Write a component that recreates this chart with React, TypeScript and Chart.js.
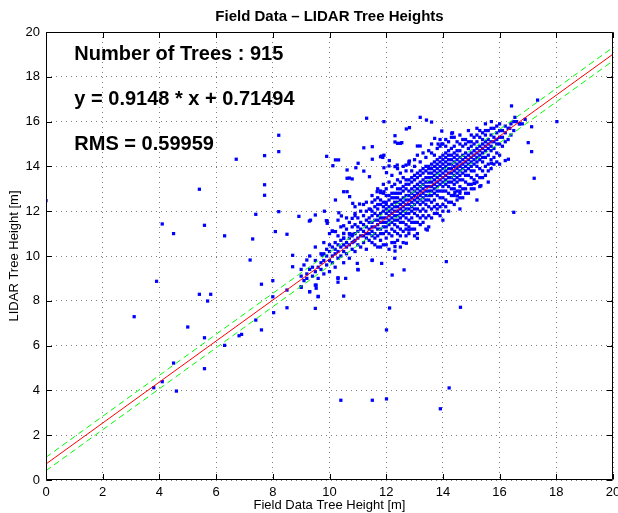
import React, { useEffect, useRef } from "react";
import { Chart, registerables } from "chart.js";

Chart.register(...registerables);

const chartTitle = "Field Data – LIDAR Tree Heights";
const xAxisTitle = "Field Data Tree Height [m]";
const yAxisTitle = "LIDAR Tree Height [m]";
const tickValues = [0, 2, 4, 6, 8, 10, 12, 14, 16, 18, 20];
const axisMin = 0;
const axisMax = 20;

const fitSlope = 0.9148;
const fitIntercept = 0.71494;
const bandHalfWidth = 0.3;

const annotationTexts = ["Number of Trees : 915", "y = 0.9148 * x + 0.71494", "RMS = 0.59959"];
const annotationX = 1.0;
const annotationY = [19, 17, 15];

// Dense core of the scatter: field height columns and the LIDAR heights read in each column
const coreFieldX = [
  9.0, 9.1, 9.2, 9.3, 9.4, 9.5, 9.6, 9.7, 9.8, 9.9,
  10.0, 10.1, 10.2, 10.3, 10.4, 10.5, 10.6, 10.7, 10.8, 10.9,
  11.0, 11.1, 11.2, 11.3, 11.4, 11.5, 11.6, 11.7, 11.8, 11.9,
  12.0, 12.1, 12.2, 12.3, 12.4, 12.5, 12.6, 12.7, 12.8, 12.9,
  13.0, 13.1, 13.2, 13.3, 13.4, 13.5, 13.6, 13.7, 13.8, 13.9,
  14.0, 14.1, 14.2, 14.3, 14.4, 14.5, 14.6, 14.7, 14.8, 14.9,
  15.0, 15.1, 15.2, 15.3, 15.4, 15.5, 15.6, 15.7, 15.8, 15.9,
  16.0, 16.1, 16.2, 16.3, 16.4, 16.5, 16.7, 16.9,
];
const coreLidarY = [
  [8.6, 9.1, 9.4], [8.9, 9.6], [9.0, 9.2], [8.4, 9.4, 10.0], [9.1, 9.5],
  [8.7, 9.3, 9.8, 10.4], [9.0, 9.5, 8.2], [9.4, 9.7, 10.1], [9.2, 9.8, 10.1, 10.6], [9.6, 10.0, 10.3],
  [9.3, 9.8, 10.2, 10.5, 11.0], [9.7, 10.0, 10.4, 11.1], [9.5, 10.1, 10.3, 10.6], [9.0, 9.9, 10.2, 10.5, 10.9, 11.6], [10.0, 10.4, 10.7, 11.3],
  [9.7, 10.2, 10.5, 10.8, 11.0], [10.1, 10.4, 10.6, 11.2, 11.7], [9.9, 10.5, 10.8, 11.0, 11.5], [10.3, 10.6, 10.9, 11.3], [10.2, 10.7, 11.0, 11.4, 11.8, 12.2],
  [9.4, 10.5, 10.8, 11.1, 11.3, 11.7], [10.4, 10.9, 11.2, 11.5, 12.0], [10.6, 10.9, 11.1, 11.4, 11.8, 12.3], [10.3, 10.8, 11.0, 11.3, 11.6, 12.0, 12.4], [10.7, 11.0, 11.2, 11.5, 11.7, 12.1],
  [9.8, 10.6, 10.9, 11.1, 11.3, 11.5, 11.8, 12.0, 12.4, 12.7], [10.5, 10.8, 11.0, 11.3, 11.6, 11.9, 12.2, 12.5], [10.4, 10.9, 11.2, 11.4, 11.6, 11.8, 12.1, 12.3, 12.6, 13.0], [10.4, 10.7, 11.0, 11.2, 11.5, 11.7, 11.9, 12.3, 12.5, 12.9], [10.5, 11.0, 11.3, 11.5, 11.7, 12.0, 12.2, 12.4, 12.8, 13.2],
  [10.5, 10.8, 11.1, 11.3, 11.5, 11.7, 11.9, 12.1, 12.3, 12.4, 12.7, 13.0], [10.3, 11.0, 11.4, 11.6, 11.8, 12.0, 12.2, 12.5, 12.7, 13.3], [10.6, 10.9, 11.2, 11.5, 11.7, 11.9, 12.1, 12.3, 12.6, 12.8, 13.1, 13.6], [9.9, 10.6, 11.1, 11.4, 11.6, 11.8, 12.0, 12.2, 12.4, 12.6, 12.8, 13.2], [10.7, 11.0, 11.3, 11.6, 11.8, 12.0, 12.2, 12.4, 12.6, 12.8, 13.0, 13.4, 13.9],
  [10.4, 10.9, 11.2, 11.5, 11.7, 11.9, 12.1, 12.3, 12.5, 12.8, 13.0, 13.3, 13.7], [10.6, 11.1, 11.5, 11.8, 12.0, 12.2, 12.4, 12.6, 12.9, 13.1, 13.5, 14.0], [10.9, 11.2, 11.4, 11.7, 11.9, 12.1, 12.3, 12.5, 12.7, 13.0, 13.2, 13.4, 13.8], [11.0, 11.3, 11.6, 11.9, 12.1, 12.3, 12.5, 12.7, 12.9, 13.2, 13.4, 14.1], [11.2, 11.5, 11.7, 12.0, 12.2, 12.4, 12.6, 12.8, 13.0, 13.3, 13.5, 13.8],
  [10.9, 11.2, 11.5, 11.9, 12.1, 12.3, 12.5, 12.7, 12.9, 13.1, 13.4, 13.6, 14.0, 14.3], [11.0, 11.5, 11.8, 12.1, 12.4, 12.6, 12.8, 13.0, 13.2, 13.5, 13.7, 14.5], [11.4, 11.7, 12.0, 12.3, 12.5, 12.7, 12.9, 13.1, 13.3, 13.6, 13.8, 14.2], [11.5, 11.8, 12.1, 12.4, 12.6, 12.8, 13.0, 13.2, 13.4, 13.7, 13.9, 14.6], [11.2, 11.7, 12.0, 12.3, 12.5, 12.7, 12.9, 13.1, 13.3, 13.5, 13.8, 14.0, 14.4],
  [11.3, 11.8, 12.2, 12.5, 12.7, 12.9, 13.1, 13.3, 13.5, 13.7, 13.9, 14.0, 14.7], [11.7, 12.1, 12.4, 12.7, 12.9, 13.1, 13.3, 13.5, 13.7, 13.9, 14.1, 14.6, 15.0], [11.9, 12.2, 12.5, 12.8, 13.0, 13.2, 13.4, 13.6, 13.8, 14.0, 14.2, 14.5], [11.9, 12.1, 12.3, 12.7, 12.9, 13.1, 13.3, 13.5, 13.7, 13.9, 14.1, 14.3, 14.8], [11.8, 12.2, 12.6, 12.9, 13.2, 13.4, 13.6, 13.8, 14.0, 14.2, 14.4, 14.9, 15.2],
  [11.6, 12.0, 12.3, 12.6, 12.9, 13.1, 13.3, 13.5, 13.7, 13.9, 14.1, 14.3, 14.5, 15.0], [12.2, 12.5, 12.9, 13.2, 13.4, 13.6, 13.8, 14.0, 14.2, 14.4, 14.6, 14.9, 15.2], [12.0, 12.4, 12.8, 13.1, 13.3, 13.5, 13.7, 13.9, 14.1, 14.3, 14.5, 14.7, 15.1], [12.4, 12.7, 13.0, 13.3, 13.5, 13.7, 13.9, 14.1, 14.3, 14.5, 14.8, 15.3], [12.3, 12.7, 13.0, 13.2, 13.4, 13.6, 13.8, 14.0, 14.2, 14.4, 14.6, 14.9, 15.3],
  [12.5, 12.9, 13.3, 13.5, 13.7, 13.9, 14.1, 14.3, 14.5, 14.7, 15.1], [12.1, 12.6, 12.8, 13.1, 13.4, 13.6, 13.8, 14.0, 14.2, 14.4, 14.7, 15.0, 15.4], [12.6, 13.0, 13.4, 13.7, 13.9, 14.1, 14.3, 14.5, 14.9, 15.2], [12.8, 13.0, 13.3, 13.6, 13.8, 14.0, 14.2, 14.4, 14.6, 15.0, 15.2], [12.8, 13.2, 13.6, 13.9, 14.1, 14.3, 14.5, 14.8, 15.1, 15.6],
  [13.0, 13.2, 13.5, 13.8, 14.0, 14.2, 14.4, 14.6, 14.9, 15.1, 15.4], [13.0, 13.4, 13.8, 14.1, 14.3, 14.5, 14.7, 15.0, 15.3], [12.5, 13.3, 13.6, 14.0, 14.2, 14.4, 14.6, 14.8, 15.1, 15.4, 15.7], [13.1, 13.5, 13.9, 14.3, 14.5, 14.7, 14.9, 15.3, 15.6], [13.5, 13.8, 14.2, 14.4, 14.6, 14.8, 15.0, 15.2, 15.5],
  [13.6, 14.0, 14.4, 14.7, 14.9, 15.1, 15.4, 15.6, 15.9], [13.3, 13.8, 14.1, 14.5, 14.8, 15.0, 15.2, 15.6], [13.9, 14.3, 14.7, 14.9, 15.1, 15.4, 15.7], [14.1, 14.4, 14.8, 15.1, 15.3, 15.7], [14.2, 14.6, 15.0, 15.2, 15.5, 15.8],
  [14.1, 14.5, 15.0, 15.3, 15.6, 15.9], [14.9, 15.3, 15.6], [15.1, 15.5, 15.8], [15.2, 15.7], [15.4, 15.9],
  [15.6, 16.0], [15.9], [16.1],
];

// Scattered trees away from the core
const outlierX = [
  0.0, 3.11, 3.8, 3.9, 4.1, 4.1, 4.5, 4.5, 4.6, 5.0, 5.41, 5.41, 5.59, 5.59, 5.59, 5.7, 5.81, 6.3, 6.3, 6.71,
  6.81, 6.9, 7.2, 7.29, 7.4, 7.4, 7.6, 7.6, 7.71, 7.71, 7.71, 8.0, 8.0, 8.03, 8.09, 8.21, 8.21, 8.21, 8.5, 8.5,
  8.5, 8.7, 8.7, 8.92, 9.0, 9.29, 9.2, 9.3, 9.33, 9.5, 9.5, 9.53, 9.53, 9.6, 9.74, 9.82, 9.89, 9.92, 9.92, 9.9,
  10.12, 10.21, 10.32, 10.1, 10.21, 10.21, 10.3, 10.3, 10.33, 10.42, 10.4, 10.5, 10.5, 10.5, 10.5, 10.5, 10.57, 10.62, 10.62, 10.62,
  10.7, 10.72, 10.8, 10.71, 10.8, 10.82, 10.82, 10.86, 10.9, 10.93, 10.98, 11.01, 11.01, 11.06, 11.21, 11.21, 11.31, 11.41, 11.45, 11.51,
  11.51, 11.51, 11.51, 11.68, 11.8, 11.8, 11.84, 11.84, 11.88, 11.92, 11.92, 11.92, 11.92, 12.01, 12.01, 12.01, 12.1, 12.11, 12.12, 12.21,
  12.31, 12.31, 12.4, 12.5, 12.55, 12.31, 12.31, 12.31, 12.39, 12.63, 12.71, 12.82, 12.71, 12.7, 12.8, 12.82, 12.8, 13.1, 13.2, 13.2,
  13.1, 13.42, 13.6, 13.45, 13.71, 13.83, 13.96, 13.96, 13.91, 14.12, 14.22, 14.31, 14.34, 14.42, 14.51, 14.6, 14.62, 15.1, 15.12, 15.34,
  15.71, 15.71, 16.2, 16.31, 16.36, 16.42, 16.54, 16.6, 16.7, 16.8, 17.01, 17.13, 17.13, 17.22, 17.34, 18.02, 16.5,
];
const outlierY = [
  12.47, 7.29, 4.12, 8.87, 4.39, 11.43, 11.0, 5.22, 3.97, 6.83, 12.98, 8.29, 11.37, 6.35, 4.97, 7.99, 8.29, 10.9, 6.01, 14.32,
  6.44, 6.5, 9.82, 10.76, 7.14, 11.86, 8.74, 6.7, 14.48, 13.18, 12.71, 8.9, 8.18, 7.47, 11.09, 15.39, 14.66, 11.98, 10.97, 7.69,
  8.48, 10.03, 9.52, 11.77, 8.63, 11.56, 9.82, 8.41, 11.6, 11.83, 7.66, 8.7, 8.56, 8.18, 10.04, 12.0, 11.58, 11.56, 11.46, 14.45,
  14.03, 14.29, 14.29, 11.12, 11.09, 12.5, 9.03, 8.83, 11.93, 11.79, 3.56, 11.35, 11.01, 12.87, 8.21, 10.79, 9.0, 13.84, 12.87, 13.47,
  13.48, 10.97, 13.44, 12.65, 11.68, 12.35, 10.97, 10.64, 11.9, 13.94, 9.67, 14.14, 9.38, 12.32, 14.83, 13.79, 16.15, 13.54, 12.08, 14.88,
  14.32, 9.82, 3.56, 12.87, 12.83, 14.43, 14.46, 9.67, 14.4, 16.0, 14.5, 13.94, 12.87, 13.72, 6.7, 3.62, 14.02, 14.26, 7.68, 9.15,
  15.37, 15.09, 15.03, 15.03, 15.06, 13.99, 10.42, 10.22, 14.06, 9.38, 15.67, 15.73, 10.57, 14.06, 14.2, 14.24, 11.16, 14.91, 14.91, 16.19,
  10.79, 16.07, 15.98, 11.16, 15.25, 15.0, 15.0, 15.58, 3.18, 9.75, 4.11, 15.48, 15.5, 12.84, 12.68, 12.9, 7.71, 13.24, 13.24, 13.14,
  16.0, 14.14, 14.26, 14.32, 15.7, 16.7, 16.19, 16.0, 15.9, 15.9, 15.06, 15.77, 14.66, 13.47, 16.96, 16.0, 11.95,
];

const FONT = '"Liberation Sans", Arial, Helvetica, sans-serif';

const matlabFrame = {
  id: "matlabFrame",
  afterDraw(chart: any) {
    const { ctx, chartArea: a, scales } = chart;
    const xs = scales.x;
    const ys = scales.y;
    const L = Math.round(a.left) + 0.5;
    const R = Math.round(a.right) - 0.5;
    const T = Math.round(a.top) + 0.5;
    const B = Math.round(a.bottom) - 0.5;
    ctx.save();
    ctx.strokeStyle = "#000";
    ctx.lineWidth = 1;
    ctx.beginPath();
    ctx.rect(L, T, R - L, B - T);
    const tl = 5.5;
    tickValues.forEach((v) => {
      const px = Math.round(xs.getPixelForValue(v)) + 0.5;
      ctx.moveTo(px, B);
      ctx.lineTo(px, B - tl);
      ctx.moveTo(px, T);
      ctx.lineTo(px, T + tl);
      const py = Math.round(ys.getPixelForValue(v)) + 0.5;
      ctx.moveTo(L, py);
      ctx.lineTo(L + tl, py);
      ctx.moveTo(R, py);
      ctx.lineTo(R - tl, py);
    });
    ctx.stroke();

    ctx.fillStyle = "#000";
    ctx.textAlign = "center";
    ctx.textBaseline = "middle";
    ctx.font = `bold 15px ${FONT}`;
    ctx.fillText(chartTitle, (a.left + a.right) / 2, 17);

    ctx.font = `13px ${FONT}`;
    ctx.fillText(xAxisTitle, (a.left + a.right) / 2, 505);
    ctx.save();
    ctx.translate(14, (a.top + a.bottom) / 2);
    ctx.rotate(-Math.PI / 2);
    ctx.fillText(yAxisTitle, 0, 0);
    ctx.restore();

    ctx.font = `bold 20px ${FONT}`;
    ctx.textAlign = "left";
    annotationTexts.forEach((t, i) => {
      ctx.fillText(t, xs.getPixelForValue(annotationX), ys.getPixelForValue(annotationY[i]));
    });
    ctx.restore();
  },
};

export default function App() {
  const ref = useRef<HTMLCanvasElement | null>(null);

  useEffect(() => {
    if (!ref.current) return;
    const points: { x: number; y: number }[] = [];
    coreFieldX.forEach((x, i) => {
      coreLidarY[i].forEach((y) => points.push({ x, y }));
    });
    outlierX.forEach((x, i) => points.push({ x, y: outlierY[i] }));

    const lineAt = (x: number, off: number) => ({ x, y: fitSlope * x + fitIntercept + off });

    const chart = new Chart(ref.current, {
      type: "scatter",
      data: {
        datasets: [
          {
            label: "fit",
            data: [lineAt(axisMin, 0), lineAt(axisMax, 0)],
            showLine: true,
            borderColor: "#ff0000",
            borderWidth: 1,
            pointRadius: 0,
            order: 0,
          },
          {
            label: "upper",
            data: [lineAt(axisMin, bandHalfWidth), lineAt(axisMax, bandHalfWidth)],
            showLine: true,
            borderColor: "#00ff00",
            borderWidth: 1,
            borderDash: [6, 4],
            pointRadius: 0,
            order: 1,
          },
          {
            label: "lower",
            data: [lineAt(axisMin, -bandHalfWidth), lineAt(axisMax, -bandHalfWidth)],
            showLine: true,
            borderColor: "#00ff00",
            borderWidth: 1,
            borderDash: [6, 4],
            pointRadius: 0,
            order: 1,
          },
          {
            label: "trees",
            data: points,
            pointStyle: "rect",
            pointRadius: 2.3,
            pointBorderWidth: 0,
            backgroundColor: "#0000ff",
            borderColor: "#0000ff",
            order: 2,
          },
        ],
      },
      options: {
        responsive: false,
        animation: false,
        events: [],
        layout: { padding: { top: 32, right: 5, left: 0, bottom: 0 } },
        plugins: {
          legend: { display: false },
          title: { display: false },
          tooltip: { enabled: false },
        },
        scales: {
          x: {
            type: "linear",
            min: axisMin,
            max: axisMax,
            afterBuildTicks: (s: any) => {
              s.ticks = tickValues.map((v) => ({ value: v }));
            },
            afterFit: (s: any) => {
              s.height = 33;
              s.paddingLeft = 0;
              s.paddingRight = 0;
            },
            ticks: {
              color: "#000",
              font: { family: FONT, size: 13 },
              padding: 5,
              maxRotation: 0,
              autoSkip: false,
            },
            grid: {
              color: "rgba(0,0,0,0.5)",
              lineWidth: 1,
              drawTicks: false,
            },
            border: { display: false, dash: [1, 4] },
          },
          y: {
            type: "linear",
            min: axisMin,
            max: axisMax,
            afterBuildTicks: (s: any) => {
              s.ticks = tickValues.map((v) => ({ value: v }));
            },
            afterFit: (s: any) => {
              s.width = 46;
              s.paddingTop = 0;
              s.paddingBottom = 0;
            },
            ticks: {
              color: "#000",
              font: { family: FONT, size: 13 },
              padding: 6,
              autoSkip: false,
            },
            grid: {
              color: "rgba(0,0,0,0.5)",
              lineWidth: 1,
              drawTicks: false,
            },
            border: { display: false, dash: [1, 4] },
          },
        },
      },
      plugins: [matlabFrame],
    });
    return () => chart.destroy();
  }, []);

  return (
    <div style={{ position: "fixed", left: 0, top: 0, width: 618, height: 513, background: "#fff" }}>
      <canvas ref={ref} width={618} height={513} style={{ display: "block", width: 618, height: 513 }} />
    </div>
  );
}
